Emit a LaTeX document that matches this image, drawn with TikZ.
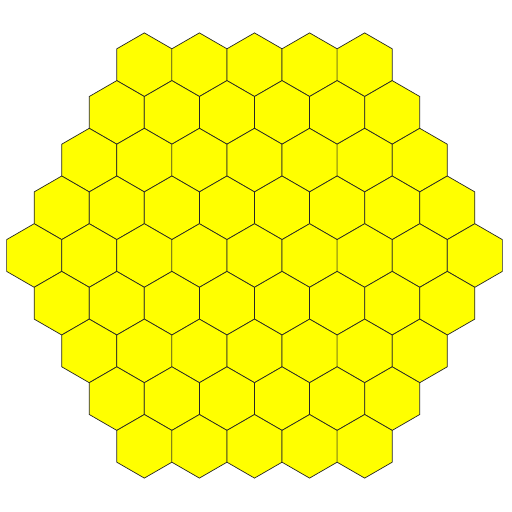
\documentclass[tikz,border=0pt]{standalone}
\usepackage{tikz}

\definecolor{hexyellow}{RGB}{255,255,0}
\tikzset{hexcell/.style={fill=hexyellow,draw=black!85,line width=0.4pt,line join=miter}}

\begin{document}
\begin{tikzpicture}[x=0.02cm,y=0.02cm]
\useasboundingbox (0,0) rectangle (512,512);

\def\R{31.8}
\def\W{55.08}

\foreach \row/\n in {-4/5,-3/6,-2/7,-1/8,0/9,1/8,2/7,3/6,4/5}
  \foreach \c in {1,...,\n} {
    \pgfmathsetmacro{\hx}{254.5+(\c-(\n+1)/2)*\W}
    \pgfmathsetmacro{\hy}{256.5-\row*1.5*\R}
    \coordinate (H\row-\c) at (\hx,\hy);
    \draw[hexcell] (H\row-\c) +(90:\R) -- +(150:\R) -- +(210:\R) -- +(270:\R) -- +(330:\R) -- +(30:\R) -- cycle;
  }
\end{tikzpicture}
\end{document}
